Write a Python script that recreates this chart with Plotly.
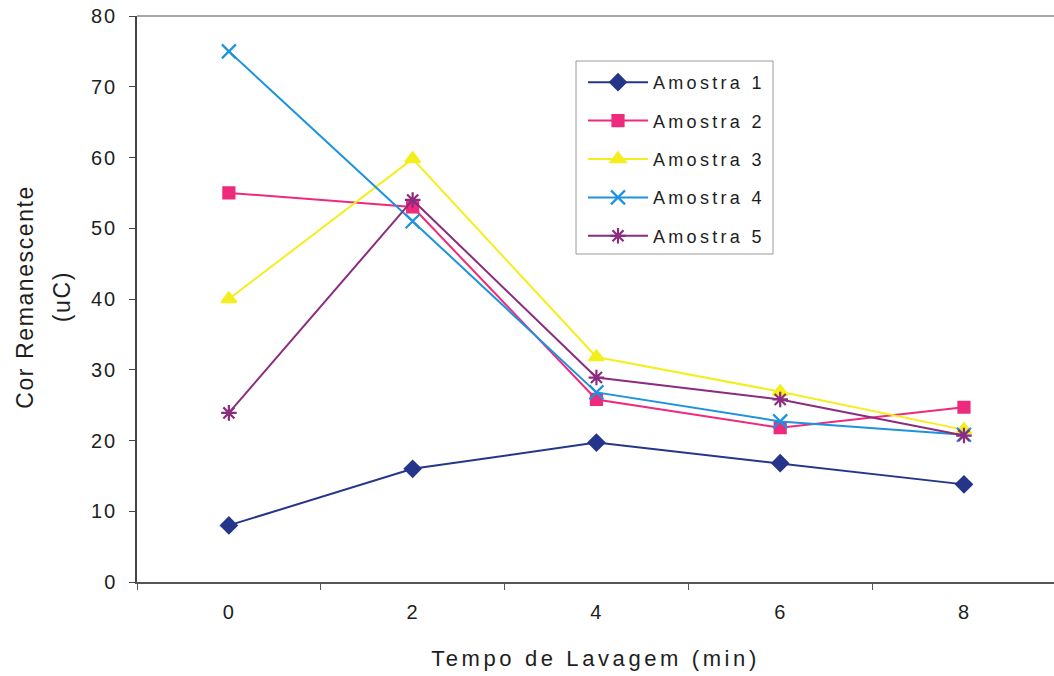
import plotly.graph_objects as go

# Washing time (min) and remaining colour (uC) for each sample
tempo = ["0", "2", "4", "6", "8"]
amostra_1 = [8, 16, 19.7, 16.8, 13.8]
amostra_2 = [55, 53, 25.8, 21.8, 24.7]
amostra_3 = [40, 59.8, 31.8, 26.9, 21.5]
amostra_4 = [75, 51, 26.8, 22.7, 20.8]
amostra_5 = [23.9, 54, 28.9, 25.8, 20.7]

series = [
    ("Amostra 1", amostra_1, "#25368A", "diamond", 12),
    ("Amostra 2", amostra_2, "#EF2A7C", "square", 11),
    ("Amostra 3", amostra_3, "#F4EE1E", "triangle-up", 13),
    ("Amostra 4", amostra_4, "#1C93DE", "x-thin-open", 14),
    ("Amostra 5", amostra_5, "#8C2C7E", "asterisk-open", 13),
]

FONT = "Liberation Sans, Arial, sans-serif"
INK = "#1e1e1e"

fig = go.Figure()
for i, (name, vals, color, symbol, size) in enumerate(series):
    fig.add_trace(go.Scatter(
        x=tempo, y=vals, name=name, mode="lines+markers",
        legendgroup=f"g{i}",
        line=dict(color=color, width=2),
        marker=dict(symbol=symbol, size=size, color=color,
                    line=dict(color=color, width=2.2)),
    ))

L, T, B = 137, 16, 94
W, H = 1054, 676
PW, PH = W - L, H - T - B

def px(x):
    return (x - L) / PW

def py(y):
    return (H - B - y) / PH

fig.update_layout(
    width=W, height=H,
    margin=dict(l=L, r=0, t=T, b=B, pad=0),
    paper_bgcolor="white", plot_bgcolor="white",
    font=dict(family=FONT, color=INK, size=19),
    showlegend=True,
    legend=dict(
        x=px(583), y=py(64), xanchor="left", yanchor="top",
        bgcolor="rgba(0,0,0,0)", borderwidth=0,
        font=dict(size=18, family=FONT, color=INK),
        itemwidth=60, tracegroupgap=12,
        traceorder="grouped",
    ),
    xaxis=dict(
        type="category", range=[-0.5, 4.49],
        showline=True, linecolor="#555555", linewidth=1.5,
        ticks="outside", tickson="boundaries", ticklen=6,
        tickcolor="#555555", showgrid=False, zeroline=False,
        tickfont=dict(size=20, family=FONT, color=INK),
        ticklabelstandoff=11,
        title=dict(text="Tempo de Lavagem (min)", standoff=29,
                   font=dict(size=22, family=FONT, color=INK)),
    ),
    yaxis=dict(
        range=[0, 80], dtick=10,
        showline=True, linecolor="#444444", linewidth=1.5,
        ticks="outside", ticklen=6, tickcolor="#444444",
        showgrid=False, zeroline=False,
        tickfont=dict(size=20, family=FONT, color=INK),
        ticklabelstandoff=8,
    ),
    shapes=[
        # top border of the plot area
        dict(type="line", xref="paper", yref="paper", x0=0, x1=1, y0=1, y1=1,
             line=dict(color="#8a8a8a", width=1.5)),
        # legend frame
        dict(type="rect", xref="paper", yref="paper",
             x0=px(576), x1=px(773), y0=py(254), y1=py(61),
             line=dict(color="#9a9a9a", width=1), fillcolor="rgba(0,0,0,0)",
             layer="below"),
    ],
    annotations=[
        dict(text="Cor Remanescente", textangle=-90, showarrow=False,
             xref="paper", yref="paper", x=px(25), y=py(297),
             xanchor="center", yanchor="middle",
             font=dict(size=23, family=FONT, color=INK)),
        dict(text="(uC)", textangle=-90, showarrow=False,
             xref="paper", yref="paper", x=px(62), y=py(297),
             xanchor="center", yanchor="middle",
             font=dict(size=23, family=FONT, color=INK)),
    ],
)

spacing_js = """
var gd = document.getElementById('{plot_id}');
function spread(sel, amount) {
  gd.querySelectorAll(sel).forEach(function (t) { t.style.letterSpacing = amount; });
}
gd.querySelectorAll('.legend [clip-path], .legend').forEach(function (e) {
  e.removeAttribute('clip-path');
});
spread('.legendtext', '3.3px');
spread('.xtitle', '3.6px');
spread('.annotation-text', '1.6px');
spread('.xtick text', '1px');
spread('.ytick text', '2px');
"""

fig.write_html("out.html", post_script=spacing_js)
